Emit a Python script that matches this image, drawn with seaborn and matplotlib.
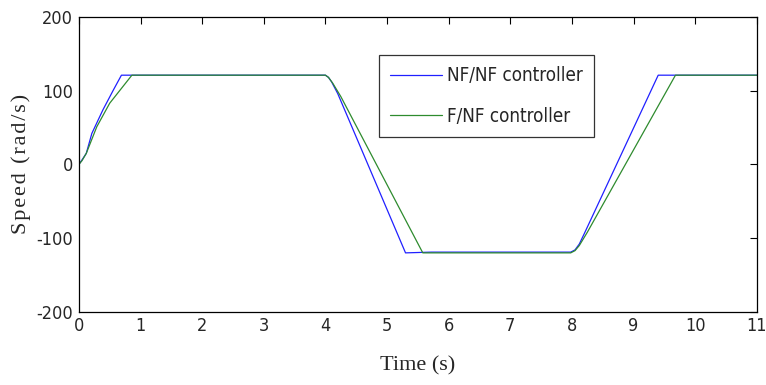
import matplotlib
matplotlib.use("Agg")
import matplotlib.pyplot as plt
import seaborn as sns
import pandas as pd

# NF/NF controller
t_nfnf = [0, 0.05, 0.12, 0.21, 0.39, 0.56, 0.69, 4.0, 4.05, 4.1, 4.2, 5.3, 5.72, 7.98, 8.05, 8.12, 8.2, 9.4, 11.0]
v_nfnf = [0, 6, 15, 42, 74, 101, 121, 121, 118, 112, 96, -120, -119, -119, -116, -108, -94, 121, 121]

# F/NF controller
t_fnf = [0, 0.05, 0.12, 0.29, 0.5, 0.86, 4.0, 4.05, 4.12, 4.25, 5.58, 5.72, 7.98, 8.05, 8.12, 8.25, 9.68, 11.0]
v_fnf = [0, 5, 15, 51, 83, 121, 121, 118, 110, 92, -120, -120, -120, -117, -110, -92, 121, 121]

series_names = ["NF/NF controller", "F/NF controller"]
x_ticks = list(range(0, 12))
y_ticks = [-200, -100, 0, 100, 200]

df = pd.concat([
    pd.DataFrame({"t": t_nfnf, "v": v_nfnf, "s": series_names[0]}),
    pd.DataFrame({"t": t_fnf, "v": v_fnf, "s": series_names[1]}),
], ignore_index=True)

sns.set_style("white")
plt.rcParams["font.family"] = ["DejaVu Sans"]
plt.rcParams["font.stretch"] = "condensed"
plt.rcParams["axes.unicode_minus"] = False

fig = plt.figure(figsize=(7.66, 3.85), dpi=100)
ax = fig.add_axes([0.103, 0.19, 0.885, 0.766])

sns.lineplot(data=df, x="t", y="v", hue="s", sort=False, estimator=None,
             palette={series_names[0]: "#2020ff", series_names[1]: "#2e8b2e"},
             linewidth=0.9, ax=ax)

ax.set_xlim(0, 11)
ax.set_ylim(-200, 200)
ax.set_xticks(x_ticks)
ax.set_yticks(y_ticks)
ax.tick_params(direction="in", length=5, width=0.8, top=True, right=True,
               labelsize=13, pad=4, color="black")
for sp in ax.spines.values():
    sp.set_visible(True)
    sp.set_color("black")
    sp.set_linewidth(0.9)

serif = ["Liberation Serif", "DejaVu Serif"]
ax.set_xlabel("Time (s)", family=serif, fontsize=16, labelpad=15)
hs = "\u200a"
ax.set_ylabel(hs.join("Speed (rad/s)"), family=serif, fontsize=16, labelpad=4)

leg = ax.legend(loc="upper left", bbox_to_anchor=(0.442, 0.871), borderaxespad=0,
                fontsize=13.5, frameon=True, fancybox=False, edgecolor="black",
                handlelength=2.8, borderpad=0.6, labelspacing=1.15, handletextpad=0.25)
leg.get_frame().set_linewidth(0.9)

fig.savefig("out.png", dpi=100)
